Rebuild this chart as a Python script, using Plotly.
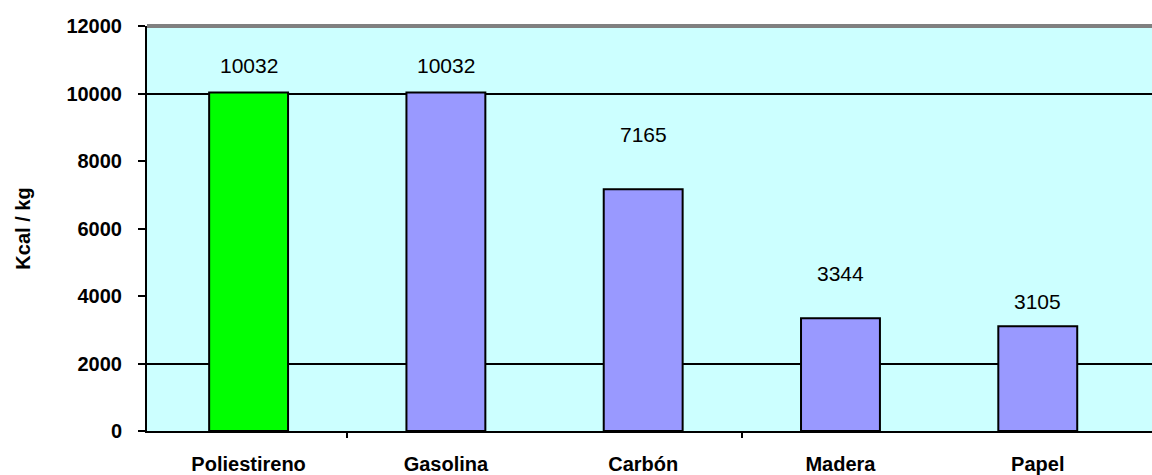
import plotly.graph_objects as go

categories = ["Poliestireno", "Gasolina", "Carbón", "Madera", "Papel"]
values = [10032, 10032, 7165, 3344, 3105]
bar_colors = ["#00FF00", "#9999FF", "#9999FF", "#9999FF", "#9999FF"]
label_offsets = [27, 27, 55, 45, 25]
y_ticks = [0, 2000, 4000, 6000, 8000, 10000, 12000]
y_tick_labels = ["0", "2000", "4000", "6000", "8000", "10000", "12000"]
grid_values = [2000, 10000]
x_tick_marks = [0.5, 2.5]

FONT = "Liberation Sans, Arial, sans-serif"
x_range = [-0.515, 4.579]

fig = go.Figure()
fig.add_trace(go.Bar(
    x=categories, y=values,
    marker=dict(color=bar_colors, line=dict(color="black", width=2)),
    width=0.40, showlegend=False, hoverinfo="x+y",
))

for c, v, off in zip(categories, values, label_offsets):
    fig.add_annotation(x=c, y=v, text=str(v), showarrow=False,
                       yshift=off, yanchor="middle",
                       font=dict(family=FONT, size=21, color="black"))

fig.update_layout(
    width=1152, height=475,
    margin=dict(l=147, r=0, t=26, b=44, autoexpand=False),
    paper_bgcolor="white", plot_bgcolor="#CCFFFF",
    xaxis=dict(type="category", range=x_range, showline=True, linecolor="black",
               linewidth=2, ticks="", showgrid=False, automargin=False,
               tickfont=dict(family=FONT, size=20, color="black", weight="bold"),
               ticklabelstandoff=14),
    xaxis2=dict(overlaying="x", anchor="y", side="bottom", range=x_range,
                tickmode="array", tickvals=x_tick_marks, ticks="outside",
                ticklen=6, tickwidth=2, tickcolor="black", showticklabels=False,
                showgrid=False, showline=False, zeroline=False, automargin=False),
    yaxis=dict(range=[0, 12000], tickmode="array", tickvals=y_ticks,
               ticktext=y_tick_labels, automargin=False,
               showgrid=False, zeroline=False, showline=True, linecolor="black",
               linewidth=2, ticks="outside", ticklen=7, tickwidth=2,
               tickcolor="black",
               tickfont=dict(family=FONT, size=20, color="black", weight="bold"),
               ticklabelstandoff=12,
               title=dict(text="Kcal / kg", standoff=30,
                          font=dict(family=FONT, size=20, color="black", weight="bold"))),
    yaxis2=dict(overlaying="y", anchor="x", side="left", range=[0, 12000],
                tickmode="array", tickvals=grid_values, showgrid=True,
                gridcolor="black", gridwidth=2, showticklabels=False,
                ticks="", showline=False, zeroline=False, automargin=False),
    shapes=[dict(type="line", xref="paper", yref="paper", x0=0, x1=1, y0=1, y1=1,
                 line=dict(color="#808080", width=4))],
)
fig.add_trace(go.Scatter(x=[0], y=[0], xaxis="x2", yaxis="y2", mode="markers",
                         marker=dict(opacity=0), showlegend=False, hoverinfo="skip"))

fig.write_html(
    "out.html",
    config={"displayModeBar": False},
    post_script="document.body.style.margin='0';document.body.style.overflow='hidden';",
)
